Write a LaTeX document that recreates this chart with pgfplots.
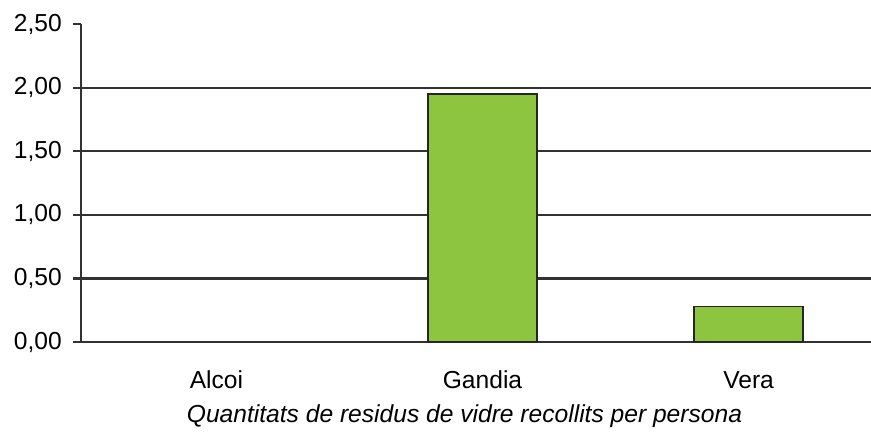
\documentclass[border=0pt]{standalone}
\usepackage{pgfplots}
\pgfplotsset{compat=1.18}
\usepackage{fontspec}
\setmainfont{Liberation Sans}
\definecolor{barg}{RGB}{141,196,64}
\definecolor{gridc}{RGB}{50,50,50}
\begin{document}
\begin{tikzpicture}
\useasboundingbox (0,0) rectangle (871pt,434pt);
\begin{axis}[
  at={(81pt,92pt)}, anchor=south west,
  scale only axis, width=790pt, height=318pt,
  xmin=-0.509, xmax=2.46, ymin=0, ymax=2.5,
  axis lines*=left,
  axis line style={gridc, line width=2.4pt},
  xtick={0,1,2}, xticklabels={Alcoi,Gandia,Vera},
  x tick style={draw=none},
  ytick={0,0.5,1,1.5,2},
  extra y ticks={2.5},
  extra y tick style={grid=none},
  ymajorgrids,
  grid style={gridc, line width=2.2pt},
  y tick style={gridc, line width=2.2pt},
  tick align=outside, major tick length=8pt,
  font=\fontsize{24.6}{28}\selectfont,
  yticklabel style={anchor=east, inner sep=0pt, xshift=-11pt},
  xticklabel style={anchor=base, inner sep=0pt, yshift=-38pt},
  /pgf/number format/.cd, fixed, fixed zerofill, precision=2, use comma, assume math mode=true,
  /pgfplots/.cd,
  xlabel={\itshape Quantitats de residus de vidre recollits per persona},
  xlabel style={at={(rel axis cs:0.4854,0)}, anchor=base, inner sep=0pt, yshift=-80pt},
  clip=false,
]
\addplot[ybar, bar width=109pt, bar shift=0pt, fill=barg, draw=black!85, line width=1.5pt]
  coordinates {(1,1.95) (2,0.28)};
\addplot[ybar, bar width=109pt, bar shift=0pt, fill=barg, draw=gridc, line width=1.5pt]
  coordinates {(0,0)};
\end{axis}
\end{tikzpicture}
\end{document}
